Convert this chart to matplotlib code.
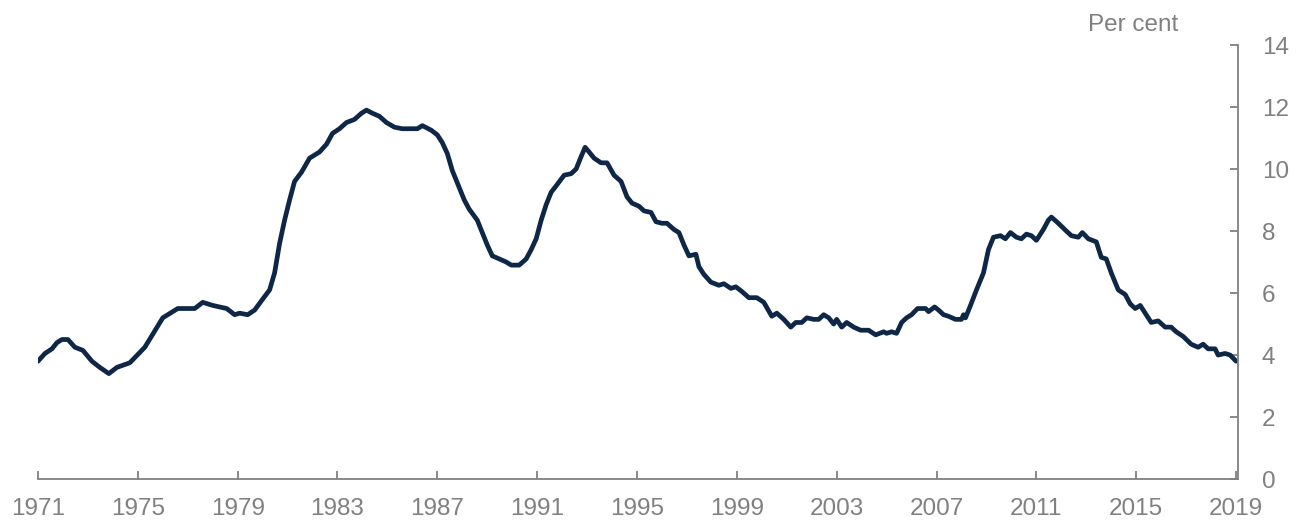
import matplotlib
matplotlib.use("Agg")
import matplotlib.pyplot as plt

# unemployment rate (decimal years, per cent)
years = [
    1971.0, 1971.28, 1971.56, 1971.76, 1971.96, 1972.2, 1972.48, 1972.8,
    1973.16, 1973.48, 1973.84, 1974.16, 1974.68, 1975.28, 1976.0, 1976.4,
    1976.6, 1977.28, 1977.6, 1978.0, 1978.56, 1978.88, 1979.08, 1979.4,
    1979.68, 1980.0, 1980.28, 1980.48, 1980.68, 1980.88, 1981.08, 1981.28,
    1981.56, 1981.88, 1982.28, 1982.56, 1982.8, 1983.08, 1983.36, 1983.68,
    1983.96, 1984.16, 1984.4, 1984.68, 1984.96, 1985.28, 1985.6, 1986.2,
    1986.4, 1986.76, 1987.0, 1987.2, 1987.4, 1987.6, 1987.88, 1988.08,
    1988.28, 1988.6, 1988.8, 1989.0, 1989.2, 1989.48, 1989.76, 1989.96,
    1990.28, 1990.56, 1990.76, 1990.96, 1991.16, 1991.36, 1991.56, 1991.8,
    1992.08, 1992.36, 1992.56, 1992.76, 1992.92, 1993.08, 1993.28, 1993.56,
    1993.8, 1994.08, 1994.36, 1994.6, 1994.8, 1995.08, 1995.28, 1995.56,
    1995.76, 1996.0, 1996.2, 1996.48, 1996.68, 1996.88, 1997.08, 1997.36,
    1997.48, 1997.68, 1997.96, 1998.28, 1998.48, 1998.76, 1998.96, 1999.2,
    1999.48, 1999.8, 2000.08, 2000.4, 2000.6, 2000.88, 2001.16, 2001.36,
    2001.6, 2001.8, 2002.08, 2002.28, 2002.48, 2002.68, 2002.88, 2003.0,
    2003.2, 2003.4, 2003.68, 2003.96, 2004.28, 2004.56, 2004.88, 2005.0,
    2005.2, 2005.4, 2005.6, 2005.8, 2006.0, 2006.24, 2006.56, 2006.68,
    2006.92, 2007.08, 2007.28, 2007.48, 2007.76, 2008.0, 2008.08, 2008.16,
    2008.36, 2008.6, 2008.88, 2009.08, 2009.28, 2009.56, 2009.76, 2009.96,
    2010.2, 2010.4, 2010.6, 2010.8, 2011.0, 2011.28, 2011.48, 2011.6,
    2011.88, 2012.2, 2012.4, 2012.68, 2012.84, 2013.08, 2013.4, 2013.6,
    2013.8, 2014.0, 2014.28, 2014.56, 2014.76, 2014.96, 2015.16, 2015.4,
    2015.6, 2015.88, 2016.16, 2016.4, 2016.6, 2016.88, 2017.2, 2017.48,
    2017.68, 2017.88, 2018.16, 2018.28, 2018.56, 2018.76, 2019.0,
]
rate = [
    3.8, 4.05, 4.2, 4.4, 4.5, 4.5, 4.25, 4.15,
    3.8, 3.6, 3.4, 3.6, 3.75, 4.25, 5.2, 5.4,
    5.5, 5.5, 5.7, 5.6, 5.5, 5.3, 5.35, 5.3,
    5.45, 5.8, 6.1, 6.65, 7.6, 8.35, 9.0, 9.6,
    9.9, 10.35, 10.55, 10.8, 11.15, 11.3, 11.5, 11.6,
    11.8, 11.9, 11.8, 11.7, 11.5, 11.35, 11.3, 11.3,
    11.4, 11.25, 11.1, 10.85, 10.5, 9.95, 9.4, 9.0,
    8.7, 8.35, 7.95, 7.55, 7.2, 7.1, 7.0, 6.9,
    6.9, 7.1, 7.4, 7.75, 8.35, 8.85, 9.25, 9.5,
    9.8, 9.85, 10.0, 10.4, 10.7, 10.55, 10.35, 10.2,
    10.2, 9.8, 9.6, 9.1, 8.9, 8.8, 8.65, 8.6,
    8.3, 8.25, 8.25, 8.05, 7.95, 7.55, 7.2, 7.25,
    6.85, 6.6, 6.35, 6.25, 6.3, 6.15, 6.2, 6.05,
    5.85, 5.85, 5.7, 5.25, 5.35, 5.15, 4.9, 5.05,
    5.05, 5.2, 5.15, 5.15, 5.3, 5.2, 5.0, 5.15,
    4.9, 5.05, 4.9, 4.8, 4.8, 4.65, 4.75, 4.7,
    4.75, 4.7, 5.05, 5.2, 5.3, 5.5, 5.5, 5.4,
    5.55, 5.45, 5.3, 5.25, 5.15, 5.15, 5.3, 5.2,
    5.6, 6.1, 6.65, 7.4, 7.8, 7.85, 7.75, 7.95,
    7.8, 7.75, 7.9, 7.85, 7.7, 8.05, 8.35, 8.45,
    8.25, 8.0, 7.85, 7.8, 7.95, 7.75, 7.65, 7.15,
    7.1, 6.65, 6.1, 5.95, 5.65, 5.5, 5.6, 5.3,
    5.05, 5.1, 4.9, 4.9, 4.75, 4.6, 4.35, 4.25,
    4.35, 4.2, 4.2, 4.0, 4.05, 4.0, 3.8,
]
xticks = list(range(1971, 2020, 4))
yticks = list(range(0, 15, 2))

grey = '#808080'
navy = '#0f2747'

plt.rcParams['font.family'] = ['Liberation Sans', 'DejaVu Sans']

fig = plt.figure(figsize=(12.96, 5.23), dpi=100)
ax = fig.add_axes([0.0293, 0.0841, 0.9260, 0.8298])

ax.plot(years, rate, color=navy, linewidth=3.4, solid_joinstyle='round',
        solid_capstyle='round')

ax.set_xlim(1971, 2019.08)
ax.set_ylim(0, 14)
ax.set_xticks(xticks)
ax.set_yticks(yticks)

for side in ['left', 'top']:
    ax.spines[side].set_visible(False)
for side in ['right', 'bottom']:
    ax.spines[side].set_color(grey)
    ax.spines[side].set_linewidth(1.3)

ax.yaxis.tick_right()
ax.tick_params(axis='both', direction='in', colors=grey, labelcolor=grey,
               labelsize=17.5, width=1.3, length=6)
ax.tick_params(axis='x', pad=14)
ax.tick_params(axis='y', pad=17)

fig.text(1178 / 1296, 1 - 25 / 523, 'Per cent', ha='right', va='center',
         fontsize=17.5, color=grey)

fig.savefig('out.png', dpi=100)
